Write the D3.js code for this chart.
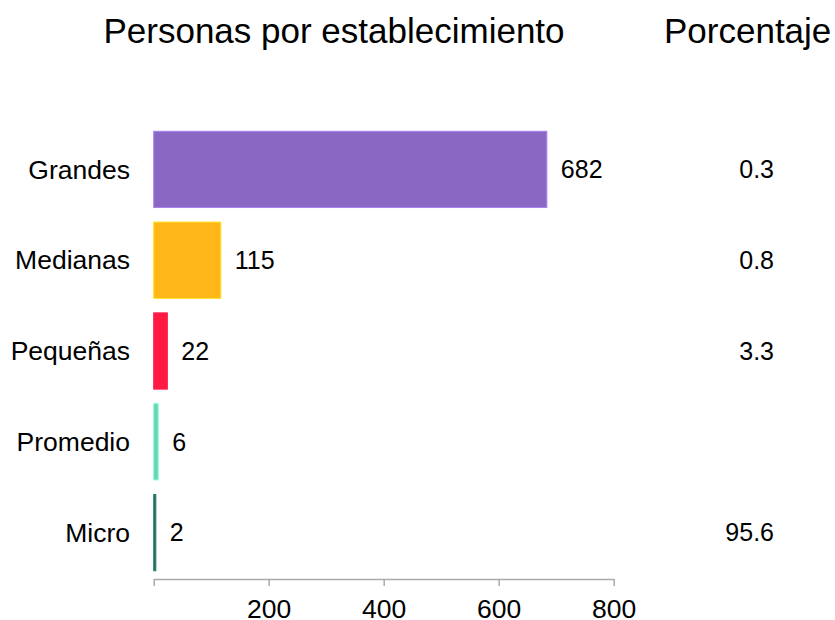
<!DOCTYPE html>
<html>
<head>
<meta charset="utf-8">
<script src="https://cdn.jsdelivr.net/npm/d3@7"></script>
<style>
  body { margin: 0; background: #fff; }
  svg { font-family: "Liberation Sans", Arial, sans-serif; }
</style>
</head>
<body>
<div id="chart"></div>
<script>
// Chart data
const categories = ["Grandes", "Medianas", "Pequeñas", "Promedio", "Micro"];
const personas = [682, 115, 22, 6, 2];
const porcentaje = ["0.3", "0.8", "3.3", "", "95.6"];
const barColors = ["#8a67c2", "#ffb619", "#ff1a42", "#68d4b2", "#22695a"];
const tickValues = [0, 200, 400, 600, 800];

const width = 835, height = 620;

const svg = d3.select("#chart").append("svg")
    .attr("width", width)
    .attr("height", height);

// Scales
const x = d3.scaleLinear().domain([0, 800]).range([153.7, 613.7]);
const y = d3.scaleBand()
    .domain(categories)
    .range([124, 578])
    .paddingInner(0.16)
    .paddingOuter(0.08);

// Titles
svg.append("text")
    .attr("x", 334)
    .attr("y", 43)
    .attr("text-anchor", "middle")
    .style("font-size", "35px")
    .text("Personas por establecimiento");

svg.append("text")
    .attr("x", 664)
    .attr("y", 43)
    .attr("text-anchor", "start")
    .style("font-size", "35px")
    .text("Porcentaje");

// Bars
svg.selectAll(".bar")
    .data(categories)
    .enter().append("rect")
    .attr("class", "bar")
    .attr("x", x(0))
    .attr("y", d => y(d))
    .attr("width", (d, i) => x(personas[i]) - x(0) + 1)
    .attr("height", y.bandwidth())
    .attr("fill", (d, i) => barColors[i])
    .attr("stroke", (d, i) => d3.color(barColors[i]).brighter(0.6))
    .attr("stroke-width", 1);

// Value labels
svg.selectAll(".value")
    .data(categories)
    .enter().append("text")
    .attr("class", "value")
    .attr("x", (d, i) => x(personas[i]) + 15)
    .attr("y", d => y(d) + y.bandwidth() / 2)
    .attr("dy", "0.35em")
    .style("font-size", "25px")
    .text((d, i) => personas[i]);

// Category labels
svg.selectAll(".cat")
    .data(categories)
    .enter().append("text")
    .attr("class", "cat")
    .attr("x", 130)
    .attr("y", d => y(d) + y.bandwidth() / 2)
    .attr("dy", "0.35em")
    .attr("text-anchor", "end")
    .style("font-size", "26.5px")
    .text(d => d);

// Percentage column
svg.selectAll(".pct")
    .data(categories)
    .enter().append("text")
    .attr("class", "pct")
    .attr("x", 774)
    .attr("y", d => y(d) + y.bandwidth() / 2)
    .attr("dy", "0.35em")
    .attr("text-anchor", "end")
    .style("font-size", "25px")
    .text((d, i) => porcentaje[i]);

// X axis
const axis = svg.append("g")
    .attr("transform", "translate(0,579)")
    .call(d3.axisBottom(x)
        .tickValues(tickValues)
        .tickFormat(d => d === 0 ? "" : d)
        .tickSize(7)
        .tickSizeOuter(0)
        .tickPadding(13));

axis.select(".domain").attr("stroke", "#aaa").attr("stroke-width", 1.5);
axis.selectAll(".tick line").attr("stroke", "#aaa").attr("stroke-width", 1.5);
axis.selectAll(".tick text")
    .attr("fill", "#000")
    .style("font-size", "26.5px")
    .style("font-family", "'Liberation Sans', Arial, sans-serif");
</script>
</body>
</html>
